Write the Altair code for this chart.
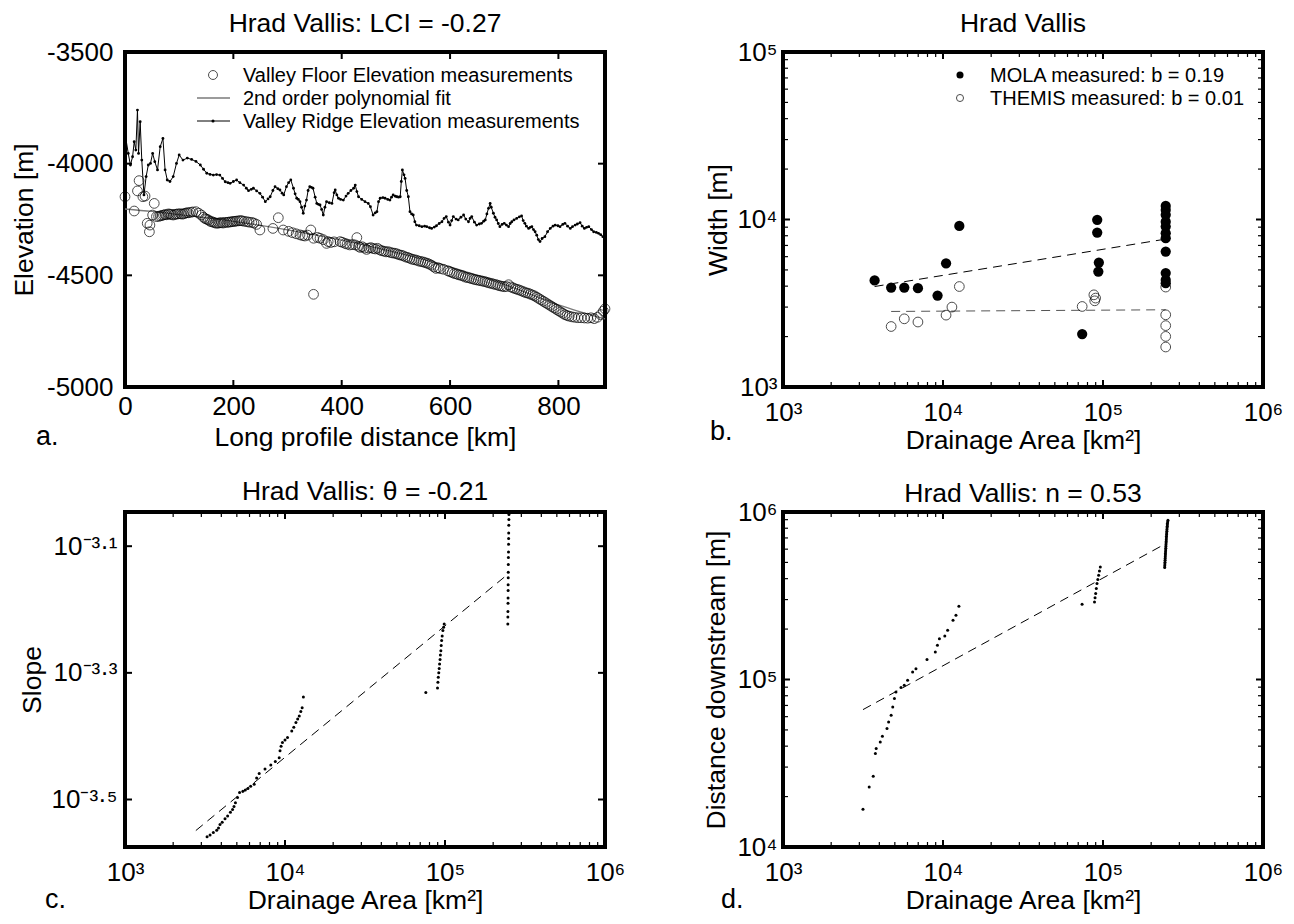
import altair as alt
import pandas as pd

FONT = "Liberation Sans"

# ---------------- Panel a: long profile ----------------
ridge_km = [1, 6, 10, 14, 17, 20, 23, 25, 28, 31, 35, 39, 43, 47, 51, 55, 60, 65, 70, 74, 78, 83, 89, 95, 100,
            107, 115, 123, 131, 139, 145, 151, 157, 163, 169, 175, 180, 185, 190, 194, 200, 206, 212, 219, 224,
            228, 233, 237, 243, 249, 254, 259, 264, 268, 273, 277, 282, 286, 290, 293, 298, 302, 306, 311, 314,
            317, 320, 323, 326, 329, 332, 335, 338, 341, 344, 347, 351, 354, 357, 360, 363, 366, 369, 372, 377,
            382, 386, 388, 391, 394, 398, 403, 408, 412, 417, 422, 425, 428, 431, 437, 443, 449, 453, 458, 462,
            465, 468, 471, 476, 480, 485, 489, 492, 495, 499, 502, 505, 508, 510, 512, 515, 517, 520, 523, 526,
            529, 532, 535, 538, 543, 548, 553, 557, 562, 566, 571, 575, 580, 585, 589, 593, 597, 600, 603, 606,
            611, 615, 620, 625, 629, 634, 637, 640, 645, 649, 654, 658, 662, 665, 668, 671, 674, 676, 680, 683,
            686, 689, 692, 696, 700, 704, 708, 711, 714, 718, 723, 728, 732, 735, 738, 741, 745, 748, 751, 754,
            757, 760, 763, 766, 770, 775, 780, 785, 790, 794, 799, 803, 808, 812, 817, 822, 826, 831, 835, 840,
            844, 848, 852, 856, 861, 865, 870, 874, 878, 882, 886]
ridge_elev = [-3879, -3954, -4006, -3969, -3902, -3939, -3760, -3954, -3812, -3984, -4140, -4058, -4006, -3999,
              -3954, -3991, -4028, -3924, -3887, -4028, -4073, -4080, -4058, -3999, -3961, -3984, -3975, -3981,
              -3990, -4006, -4025, -4043, -4048, -4051, -4049, -4051, -4066, -4081, -4085, -4088, -4080, -4073,
              -4085, -4096, -4110, -4121, -4115, -4110, -4122, -4133, -4150, -4170, -4158, -4148, -4120, -4103,
              -4112, -4118, -4132, -4140, -4103, -4085, -4073, -4110, -4135, -4155, -4160, -4170, -4195, -4222,
              -4190, -4163, -4120, -4103, -4106, -4110, -4150, -4178, -4182, -4185, -4205, -4230, -4195, -4170,
              -4175, -4178, -4130, -4118, -4140, -4155, -4160, -4163, -4145, -4133, -4120, -4110, -4096, -4125,
              -4148, -4160, -4170, -4178, -4193, -4230, -4220, -4215, -4170, -4155, -4152, -4155, -4160, -4163,
              -4150, -4140, -4146, -4148, -4150, -4148, -4080, -4028, -4050, -4066, -4120, -4148, -4215, -4225,
              -4230, -4260, -4275, -4278, -4282, -4280, -4282, -4287, -4290, -4284, -4278, -4268, -4260, -4245,
              -4237, -4262, -4275, -4255, -4237, -4248, -4252, -4240, -4230, -4248, -4260, -4245, -4237, -4262,
              -4275, -4270, -4267, -4258, -4252, -4225, -4200, -4178, -4195, -4222, -4240, -4252, -4268, -4282,
              -4272, -4267, -4275, -4282, -4268, -4260, -4252, -4245, -4238, -4234, -4255, -4267, -4280, -4290,
              -4285, -4282, -4295, -4305, -4320, -4340, -4349, -4335, -4327, -4305, -4290, -4280, -4275, -4278,
              -4282, -4272, -4267, -4280, -4290, -4282, -4275, -4270, -4264, -4280, -4290, -4285, -4282, -4295,
              -4305, -4308, -4312, -4318, -4327, -4330]

floor_km = [0, 17, 23, 26, 33, 37, 41, 45, 46, 51, 54, 58, 62, 65, 68, 71, 74, 77, 80, 83, 86, 89, 92, 95, 98,
            102, 105, 108, 111, 114, 117, 121, 125, 131, 136, 141, 145, 148, 151, 154, 157, 160, 163, 166, 169,
            172, 175, 178, 181, 184, 188, 191, 194, 197, 200, 203, 206, 210, 213, 216, 220, 225, 229, 234, 238,
            243, 249, 273, 283, 292, 302, 309, 316, 323, 328, 332, 337, 343, 348, 348, 355, 360, 366, 372, 375,
            380, 386, 397, 401, 406, 410, 415, 420, 425, 428, 431, 434, 438, 442, 446, 450, 454, 458, 462, 466,
            470, 474, 478, 482, 486, 490, 494, 498, 502, 506, 510, 514, 518, 522, 526, 530, 534, 538, 542, 546,
            550, 554, 558, 562, 566, 570, 574, 578, 582, 588, 596, 600, 604, 608, 612, 616, 620, 624, 628, 632,
            636, 640, 644, 648, 652, 656, 660, 664, 668, 672, 676, 680, 684, 688, 692, 696, 700, 704, 708, 712,
            716, 720, 724, 728, 732, 736, 740, 744, 748, 752, 756, 760, 764, 768, 772, 776, 780, 784, 788, 792,
            796, 800, 804, 808, 812, 816, 820, 825, 830, 836, 842, 848, 854, 860, 866, 872, 878, 883, 886]
floor_elev = [-4148, -4212, -4122, -4076, -4148, -4145, -4267, -4305, -4275, -4230, -4178, -4237, -4236, -4234,
              -4232, -4230, -4228, -4229, -4225, -4226, -4228, -4230, -4227, -4226, -4225, -4224, -4226, -4225,
              -4222, -4220, -4220, -4218, -4216, -4215, -4222, -4230, -4240, -4246, -4249, -4252, -4258, -4260,
              -4262, -4265, -4267, -4266, -4265, -4264, -4266, -4263, -4263, -4262, -4261, -4260, -4259, -4258,
              -4257, -4256, -4255, -4256, -4258, -4260, -4262, -4263, -4266, -4272, -4297, -4290, -4242, -4297,
              -4303, -4309, -4314, -4319, -4322, -4324, -4320, -4297, -4334, -4585, -4330, -4334, -4340, -4357,
              -4349, -4353, -4350, -4349, -4352, -4357, -4360, -4364, -4362, -4364, -4331, -4370, -4375, -4372,
              -4378, -4384, -4378, -4376, -4380, -4382, -4379, -4386, -4390, -4392, -4395, -4394, -4398, -4400,
              -4401, -4404, -4408, -4410, -4413, -4418, -4420, -4424, -4428, -4430, -4432, -4436, -4438, -4440,
              -4443, -4446, -4450, -4455, -4462, -4469, -4466, -4470, -4473, -4480, -4484, -4488, -4492, -4494,
              -4498, -4500, -4503, -4508, -4510, -4512, -4515, -4518, -4520, -4522, -4524, -4526, -4528, -4531,
              -4534, -4536, -4539, -4541, -4544, -4547, -4549, -4551, -4550, -4542, -4552, -4556, -4560, -4563,
              -4566, -4570, -4574, -4578, -4580, -4584, -4588, -4592, -4598, -4604, -4610, -4616, -4622, -4628,
              -4634, -4640, -4646, -4652, -4658, -4664, -4670, -4676, -4680, -4683, -4686, -4688, -4690, -4690,
              -4691, -4692, -4690, -4694, -4688, -4676, -4660, -4650]

fit_km = [0, 50, 100, 200, 300, 400, 500, 600, 700, 800, 886]
fit_elev = [-4203, -4214, -4228, -4258, -4296, -4342, -4397, -4462, -4540, -4632, -4695]

a_title = "Hrad Vallis: LCI = -0.27"
a_xticks = [0, 200, 400, 600, 800]
a_xlabels = ["0", "200", "400", "600", "800"]
a_yticks = [-5000, -4500, -4000, -3500]
a_ylabels = ["-5000", "-4500", "-4000", "-3500"]
a_legend = ["Valley Floor Elevation measurements", "2nd order polynomial fit",
            "Valley Ridge Elevation measurements"]

# ---------------- Panel b: width vs drainage area ----------------
mola_area = [3737, 4742, 5727, 6972, 9247, 10450, 12650, 74100, 92000, 92000, 94200, 93500,
             246600, 246600, 246600, 246600, 246600, 246600, 246600, 246600, 246600, 246600, 246600]
mola_width = [4325, 3926, 3926, 3893, 3516, 5480, 9160, 2070, 9950, 8350, 5530, 4890,
              12050, 11400, 10660, 9710, 9070, 8280, 7740, 6440, 4790, 4360, 4170]
themis_area = [4742, 5727, 6972, 10450, 11370, 12650, 74100, 87700, 89900, 88800,
               246600, 246600, 246600, 246600, 246600]
themis_width = [2297, 2553, 2443, 2686, 3000, 3980, 3025, 3550, 3395, 3270,
                3950, 2698, 2325, 2005, 1733]
mola_fit_area = [3737, 246600]
mola_fit_width = [3980, 7640]
themis_fit_area = [4742, 246600]
themis_fit_width = [2825, 2891]
b_title = "Hrad Vallis"
b_legend = ["MOLA measured: b = 0.19", "THEMIS measured: b = 0.01"]

log_ticks_area = [1e3, 1e4, 1e5, 1e6]
log_labels_area = ["10³", "10⁴", "10⁵", "10⁶"]
b_yticks = [1e3, 1e4, 1e5]
b_ylabels = ["10³", "10⁴", "10⁵"]

# ---------------- Panel c: slope vs drainage area ----------------
slope_area = [3258, 3400, 3565, 3743, 3840, 3925, 4050, 4217, 4380, 4560, 4700, 4800, 4900, 5050, 5200, 5455,
              5650, 5864, 6100, 6416, 6650, 6898, 7500, 8150, 8700, 9200, 9310, 9450, 9640, 10000, 10370,
              11020, 11350, 11700, 12000, 12280, 12550, 12800, 13030,
              75900, 89800, 90300, 90800, 91400, 92000, 92500, 93100, 93600, 94200, 94700, 95300, 96000,
              97000, 98000, 98800,
              247000, 247200, 247300, 247600, 247800, 248000, 248100, 248400, 248600, 248700, 249000, 249300,
              249500, 249900, 250100, 250500, 250800, 251000]
slope_log10 = [-3.559, -3.556, -3.552, -3.5485, -3.545, -3.5395, -3.536, -3.5305, -3.526, -3.520, -3.5157,
               -3.511, -3.505, -3.497, -3.489, -3.487, -3.485, -3.4825, -3.479, -3.476, -3.466, -3.459,
               -3.452, -3.4455, -3.440, -3.434, -3.423, -3.416, -3.410, -3.406, -3.402, -3.392, -3.386,
               -3.3785, -3.373, -3.368, -3.361, -3.355, -3.338,
               -3.331, -3.324, -3.315, -3.307, -3.300, -3.293, -3.286, -3.279, -3.272, -3.265, -3.257, -3.249,
               -3.242, -3.233, -3.228, -3.223,
               -3.223, -3.212, -3.203, -3.190, -3.182, -3.170, -3.161, -3.150, -3.141, -3.129, -3.118, -3.109,
               -3.097, -3.088, -3.079, -3.067, -3.058, -3.050]
slope_fit_area = [2772, 237000]
slope_fit_log10 = [-3.549, -3.148]
c_title = "Hrad Vallis: θ = -0.21"
c_yticks_log10 = [-3.5, -3.3, -3.1]
c_ylabels = ["10⁻³·⁵", "10⁻³·³", "10⁻³·¹"]

# ---------------- Panel d: distance downstream vs drainage area ----------------
dist_area = [3162, 3457, 3664, 3780, 3823, 4055, 4180, 4467, 4571, 4742, 4852, 4970, 5082, 5464, 5727, 6010,
             6457, 6776, 7943, 8954, 9230, 9495, 10260, 10690, 11550, 12050, 12570,
             74000, 88500, 89200, 90000, 90800, 91700, 92800, 93900, 95000, 96200,
             243000, 243300, 243600, 244000, 244300, 244700, 245000, 245400, 245700, 246000, 246400, 246800,
             247100, 247500, 247800, 248200, 248500, 248900, 249300, 249700, 250100, 250600, 251000, 251500,
             251900, 252400, 253000, 253800, 254700]
dist_m = [16790, 22800, 26420, 36100, 38680, 42360, 45800, 50900, 55700, 61100, 68500, 76900, 84200, 89450,
          92300, 98900, 110900, 116100, 131500, 146000, 160000, 175400, 181900, 196600, 225600, 241700, 273500,
          281000, 290000, 308000, 326000, 349000, 373600, 396000, 418800, 444000, 469700,
          465600, 478000, 490000, 502000, 515000, 527000, 540000, 553000, 566000, 580000, 594000, 608000,
          622000, 637000, 652000, 667000, 683000, 699000, 716000, 733000, 750000, 768000, 786000, 804000,
          822000, 839000, 856000, 874000, 891800]
dist_fit_area = [3162, 236000]
dist_fit_m = [66100, 632700]
d_title = "Hrad Vallis: n = 0.53"
d_yticks = [1e4, 1e5, 1e6]
d_ylabels = ["10⁴", "10⁵", "10⁶"]

panel_letters = ["a.", "b.", "c.", "d."]

W, H = 480, 335
LBL = 26
XTTL = 26.5
YTTL = 26.5
TITLE = 26.5
LEG = 20
MAJ = 7     # inward major tick length
MIN = 5     # inward minor tick length


def lab_expr(values, labels):
    parts = []
    for v, l in zip(values, labels):
        tol = abs(v) * 1e-6 + 1e-9
        parts.append(f"abs(datum.value - ({v!r})) < {tol!r} ? '{l}'")
    return " : ".join(parts) + " : ''"


def minor_log(lo_exp, hi_exp):
    return [k * 10 ** e for e in range(lo_exp, hi_exp) for k in range(2, 10)]


def text_layer(text, px, py, size=LEG, align="left"):
    return alt.Chart(pd.DataFrame({"t": [text]})).mark_text(
        align=align, baseline="alphabetic", font=FONT, fontSize=size, color="black"
    ).encode(text="t:N", x=alt.value(px), y=alt.value(py))


def title_layer(text, py):
    return text_layer(text, W / 2, py, size=TITLE, align="center")


def letter_layer(text, px, py):
    return text_layer(text, px, py, size=27)


def x_axis(values, labels, title, pad, ty):
    return alt.Axis(values=values, labelExpr=lab_expr(values, labels), title=title,
                    labelFont=FONT, labelFontSize=LBL, titleFont=FONT, titleFontSize=XTTL,
                    labelPadding=pad, titleY=ty, titleBaseline="alphabetic", grid=False, ticks=False,
                    domain=False, labelFlush=False, labelOverlap=False, titleFontWeight="normal")


def y_axis(values, labels, title, pad, tx):
    return alt.Axis(values=values, labelExpr=lab_expr(values, labels), title=title,
                    labelFont=FONT, labelFontSize=LBL, titleFont=FONT, titleFontSize=YTTL,
                    labelPadding=pad, titleX=tx, titleAngle=270, titleBaseline="alphabetic",
                    grid=False, ticks=False, domain=False, labelFlush=False, labelOverlap=False,
                    titleFontWeight="normal")


def xticks_layers(field, values, scale, axis, length, width):
    base = alt.Chart(pd.DataFrame({field: values})).mark_rule(color="black", strokeWidth=width)
    enc_x = alt.X(f"{field}:Q", scale=scale, axis=axis)
    return [base.encode(x=enc_x, y=alt.value(H - length), y2=alt.value(H)),
            base.encode(x=enc_x, y=alt.value(0), y2=alt.value(length))]


def yticks_layers(field, values, scale, axis, length, width):
    base = alt.Chart(pd.DataFrame({field: values})).mark_rule(color="black", strokeWidth=width)
    enc_y = alt.Y(f"{field}:Q", scale=scale, axis=axis)
    return [base.encode(y=enc_y, x=alt.value(0), x2=alt.value(length)),
            base.encode(y=enc_y, x=alt.value(W - length), x2=alt.value(W))]


one = pd.DataFrame({"t": [0]})

# ----- panel a -----
xa = alt.Scale(domain=[0, 886], nice=False, zero=False)
ya = alt.Scale(domain=[-5000, -3500], nice=False, zero=False)
xa_axis = x_axis(a_xticks, a_xlabels, "Long profile distance [km]", 6, 58)
ya_axis = y_axis(a_yticks, a_ylabels, "Elevation [m]", 12, -93)
df_ridge = pd.DataFrame({"km": ridge_km, "elev": ridge_elev})
df_floor = pd.DataFrame({"km": floor_km, "elev": floor_elev})
df_fit = pd.DataFrame({"km": fit_km, "elev": fit_elev})

fit_line = alt.Chart(df_fit).mark_line(color="#7a7a7a", strokeWidth=1.3, interpolate="monotone").encode(
    x=alt.X("km:Q", scale=xa, axis=xa_axis), y=alt.Y("elev:Q", scale=ya, axis=ya_axis))
floor_pts = alt.Chart(df_floor).mark_point(shape="circle", filled=False, color="black", size=95,
                                           strokeWidth=1).encode(x="km:Q", y="elev:Q")
ridge_line = alt.Chart(df_ridge).mark_line(color="black", strokeWidth=1).encode(x="km:Q", y="elev:Q")
ridge_pts = alt.Chart(df_ridge).mark_circle(color="black", size=8, opacity=1).encode(x="km:Q", y="elev:Q")

leg_a = [
    alt.Chart(one).mark_point(shape="circle", filled=False, color="black", size=80, strokeWidth=1).encode(
        x=alt.value(88), y=alt.value(23)),
    alt.Chart(one).mark_rule(color="#7a7a7a", strokeWidth=1.5).encode(
        x=alt.value(72), x2=alt.value(105), y=alt.value(46)),
    alt.Chart(one).mark_rule(color="black", strokeWidth=1).encode(
        x=alt.value(72), x2=alt.value(105), y=alt.value(69)),
    alt.Chart(one).mark_circle(color="black", size=10, opacity=1).encode(x=alt.value(88), y=alt.value(69)),
    text_layer(a_legend[0], 118, 30),
    text_layer(a_legend[1], 118, 53),
    text_layer(a_legend[2], 118, 76),
]

panel_a = alt.layer(
    fit_line, ridge_line, ridge_pts, floor_pts,
    *xticks_layers("km", a_xticks, xa, xa_axis, MAJ, 2),
    *yticks_layers("elev", a_yticks, ya, ya_axis, MAJ, 2),
    *leg_a, title_layer(a_title, -20), letter_layer(panel_letters[0], -89, 393)
).properties(width=W, height=H)

# ----- panel b -----
x_log = alt.Scale(type="log", domain=[1e3, 1e6], nice=False)
yb = alt.Scale(type="log", domain=[1e3, 1e5], nice=False)
area_title = "Drainage Area [km²]"
xlog_axis = x_axis(log_ticks_area, log_labels_area, area_title, 12, 61)
yb_axis = y_axis(b_yticks, b_ylabels, "Width [m]", 6, -57)

df_mola = pd.DataFrame({"area": mola_area, "width": mola_width})
df_themis = pd.DataFrame({"area": themis_area, "width": themis_width})
df_mfit = pd.DataFrame({"area": mola_fit_area, "width": mola_fit_width})
df_tfit = pd.DataFrame({"area": themis_fit_area, "width": themis_fit_width})

mfit = alt.Chart(df_mfit).mark_line(color="black", strokeWidth=1, strokeDash=[9, 6]).encode(
    x=alt.X("area:Q", scale=x_log, axis=xlog_axis), y=alt.Y("width:Q", scale=yb, axis=yb_axis))
tfit = alt.Chart(df_tfit).mark_line(color="#555555", strokeWidth=1, strokeDash=[9, 6]).encode(
    x="area:Q", y="width:Q")
mola_pts = alt.Chart(df_mola).mark_circle(color="black", size=105, opacity=1).encode(x="area:Q", y="width:Q")
themis_pts = alt.Chart(df_themis).mark_point(shape="circle", filled=False, color="black", size=95,
                                             strokeWidth=1).encode(x="area:Q", y="width:Q")
leg_b = [
    alt.Chart(one).mark_circle(color="black", size=50, opacity=1).encode(x=alt.value(177), y=alt.value(23)),
    alt.Chart(one).mark_point(shape="circle", filled=False, color="black", size=50, strokeWidth=1).encode(
        x=alt.value(177), y=alt.value(46)),
    text_layer(b_legend[0], 207, 30),
    text_layer(b_legend[1], 207, 53),
]
panel_b = alt.layer(
    mfit, tfit, themis_pts, mola_pts,
    *xticks_layers("area", log_ticks_area, x_log, xlog_axis, MAJ, 2),
    *xticks_layers("area", minor_log(3, 6), x_log, xlog_axis, MIN, 1.2),
    *yticks_layers("width", b_yticks, yb, yb_axis, MAJ, 2),
    *yticks_layers("width", minor_log(3, 5), yb, yb_axis, MIN, 1.2),
    *leg_b, title_layer(b_title, -20), letter_layer(panel_letters[1], -73, 388)
).properties(width=W, height=H)

# ----- panel c -----
yc_ticks = [10 ** v for v in c_yticks_log10]
yc = alt.Scale(type="log", domain=[10 ** -3.575, 10 ** -3.046], nice=False)
yc_axis = y_axis(yc_ticks, c_ylabels, "Slope", 8, -85)
df_slope = pd.DataFrame({"area": slope_area, "slope": [10 ** v for v in slope_log10]})
df_sfit = pd.DataFrame({"area": slope_fit_area, "slope": [10 ** v for v in slope_fit_log10]})
sfit = alt.Chart(df_sfit).mark_line(color="black", strokeWidth=1, strokeDash=[9, 6]).encode(
    x=alt.X("area:Q", scale=x_log, axis=xlog_axis), y=alt.Y("slope:Q", scale=yc, axis=yc_axis))
spts = alt.Chart(df_slope).mark_circle(color="black", size=9, opacity=1).encode(x="area:Q", y="slope:Q")
panel_c = alt.layer(
    sfit, spts,
    *xticks_layers("area", log_ticks_area, x_log, xlog_axis, MAJ, 2),
    *xticks_layers("area", minor_log(3, 6), x_log, xlog_axis, MIN, 1.2),
    *yticks_layers("slope", yc_ticks, yc, yc_axis, MAJ, 2),
    title_layer(c_title, -12), letter_layer(panel_letters[2], -80, 396)
).properties(width=W, height=H)

# ----- panel d -----
yd = alt.Scale(type="log", domain=[1e4, 1e6], nice=False)
yd_axis = y_axis(d_yticks, d_ylabels, "Distance downstream [m]", 6, -59)
df_dist = pd.DataFrame({"area": dist_area, "dist": dist_m})
df_dfit = pd.DataFrame({"area": dist_fit_area, "dist": dist_fit_m})
dfit = alt.Chart(df_dfit).mark_line(color="black", strokeWidth=1, strokeDash=[9, 6]).encode(
    x=alt.X("area:Q", scale=x_log, axis=xlog_axis), y=alt.Y("dist:Q", scale=yd, axis=yd_axis))
dpts = alt.Chart(df_dist).mark_circle(color="black", size=9, opacity=1).encode(x="area:Q", y="dist:Q")
panel_d = alt.layer(
    dfit, dpts,
    *xticks_layers("area", log_ticks_area, x_log, xlog_axis, MAJ, 2),
    *xticks_layers("area", minor_log(3, 6), x_log, xlog_axis, MIN, 1.2),
    *yticks_layers("dist", d_yticks, yd, yd_axis, MAJ, 2),
    *yticks_layers("dist", minor_log(4, 6), yd, yd_axis, MIN, 1.2),
    title_layer(d_title, -10), letter_layer(panel_letters[3], -62, 396)
).properties(width=W, height=H)

chart = alt.concat(
    panel_a, panel_b, panel_c, panel_d, columns=2,
    spacing={"row": 125, "column": 178}, bounds="flush", align="all"
).properties(
    autosize=alt.AutoSizeParams(type="none"),
    padding={"left": 117, "top": 44, "right": 1161, "bottom": 864},
    background="white",
).configure_view(
    stroke="black", strokeWidth=4
).configure_axis(
    labelColor="black", titleColor="black", titleFontWeight="normal",
    ticks=False, domain=False, grid=False, labelFlush=False, labelOverlap=False
)

chart.save("out.html", embed_options={"renderer": "svg", "actions": False})
